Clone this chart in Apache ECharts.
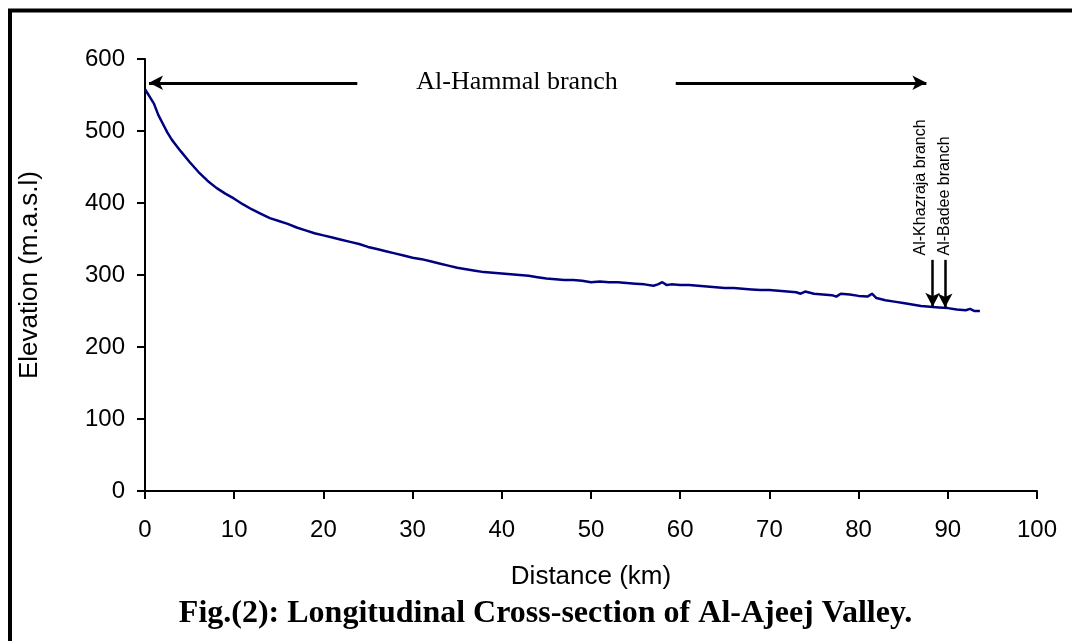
<!DOCTYPE html>
<html><head><meta charset="utf-8">
<script src="https://cdn.jsdelivr.net/npm/echarts@6/dist/echarts.min.js"></script>
<style>html,body{margin:0;padding:0;background:#fff;overflow:hidden}#c{width:1072px;height:641px}</style>
</head><body><div id="c"></div>
<script>
// Distance along the valley (km) and elevation (m.a.s.l)
const distanceKm = [0,0.5,1,1.5,2,2.5,3,3.5,4,5,6,7,8,9,10,11,12,13,14,15,16,17,18,19,20,21,22,23,24,25,26,27,28,29,30,31,32,33,34,35,36,37,38,39,40,41,42,43,44,45,46,47,48,49,50,51,52,53,54,55,56,57,57.5,58,58.5,59,60,61,62,63,64,65,66,67,68,69,70,71,72,73,73.5,74,75,76,77,77.5,78,79,80,81,81.5,82,83,84,85,86,87,88,89,90,91,92,92.5,93,93.6];
const elevationM = [558,548,538,522,510,498,488,480,472,457,443,431,421,413,406,398,391,385,379,375,371,366,362,358,355,352,349,346,343,339,336,333,330,327,324,322,319,316,313,310,308,306,304,303,302,301,300,299,297,295,294,293,293,292,290,291,290,290,289,288,287,285,287,290,286,287,286,286,285,284,283,282,282,281,280,279,279,278,277,276,274,277,274,273,272,270,274,273,271,270,274,268,265,263,261,259,257,256,255,254,252,251,253,250,250];
const xTickValues = [0,100,10];   // min, max, step
const yTickValues = [0,600,100];  // min, max, step
const mainBranch = 'Al-Hammal branch';
const sideBranches = ['Al-Khazraja branch', 'Al-Badee branch'];
const sideBranchKm = [88.3, 89.7];
const figTitle = 'Fig.(2): Longitudinal Cross-section of Al-Ajeej Valley.';

const chart = echarts.init(document.getElementById('c'), null, {renderer:'canvas'});
const sans = 'Liberation Sans, Arial, sans-serif';
const serif = 'Liberation Serif, Times New Roman, serif';
const lineData = distanceKm.map((d,i)=>[d, elevationM[i]]);

chart.setOption({
  animation:false,
  backgroundColor:'#fff',
  grid:{left:145,right:35,top:59,bottom:150,containLabel:false,outerBoundsMode:'none'},
  xAxis:{
    type:'value', min:xTickValues[0], max:xTickValues[1], interval:xTickValues[2],
    name:'Distance (km)', nameLocation:'middle', nameGap:73,
    nameTextStyle:{fontFamily:sans,fontSize:26,color:'#000'},
    axisLine:{show:true,onZero:false,lineStyle:{color:'#000',width:2}},
    axisTick:{show:true,length:8,lineStyle:{color:'#000',width:2}},
    axisLabel:{fontFamily:sans,fontSize:24,color:'#000',margin:27},
    splitLine:{show:false}
  },
  yAxis:{
    type:'value', min:yTickValues[0], max:yTickValues[1], interval:yTickValues[2],
    name:'Elevation (m.a.s.l)', nameLocation:'middle', nameGap:102,
    nameTextStyle:{fontFamily:sans,fontSize:26,color:'#000'},
    axisLine:{show:true,lineStyle:{color:'#000',width:2}},
    axisTick:{show:true,length:8,lineStyle:{color:'#000',width:2}},
    axisLabel:{fontFamily:sans,fontSize:24,color:'#000',margin:20},
    splitLine:{show:false}
  },
  series:[{
    type:'line', data:lineData, showSymbol:false, symbol:'none',
    lineStyle:{color:'#000080',width:2.5}, z:3,
    markLine:{
      silent:true, symbol:['none','arrow'], symbolSize:[11,14],
      label:{show:false},
      lineStyle:{color:'#000',width:3,type:'solid'},
      data:[
        [{coord:[23.8,567]},{coord:[0.45,567]}],
        [{coord:[59.5,567]},{coord:[87.6,567]}],
        [{coord:[sideBranchKm[0],321],lineStyle:{width:2.5}},{coord:[sideBranchKm[0],256]}],
        [{coord:[sideBranchKm[1],321],lineStyle:{width:2.5}},{coord:[sideBranchKm[1],255]}]
      ]
    }
  }]
});

function px(x,y){return chart.convertToPixel({gridIndex:0},[x,y]);}
const pHam = px(41.7,567);
const pK = px(sideBranchKm[0],323);
const pB = px(sideBranchKm[1],323);
chart.setOption({
  graphic:[
    {type:'rect',shape:{x:10,y:10.5,width:1200,height:800},style:{fill:'none',stroke:'#000',lineWidth:4},silent:true},
    {type:'text',x:pHam[0],y:pHam[1]-1,style:{text:mainBranch,font:'26px '+serif,fill:'#000',align:'center',verticalAlign:'middle'}},
    {type:'text',x:pK[0]-12,y:pK[1]-3,rotation:Math.PI/2,style:{text:sideBranches[0],font:'16px '+sans,fill:'#000',align:'left',verticalAlign:'middle'}},
    {type:'text',x:pB[0]-1,y:pB[1]-3,rotation:Math.PI/2,style:{text:sideBranches[1],font:'16px '+sans,fill:'#000',align:'left',verticalAlign:'middle'}},
    {type:'text',x:545.5,y:614,style:{text:figTitle,font:'bold 32px '+serif,fill:'#000',align:'center',verticalAlign:'middle'}}
  ]
});
</script></body></html>
